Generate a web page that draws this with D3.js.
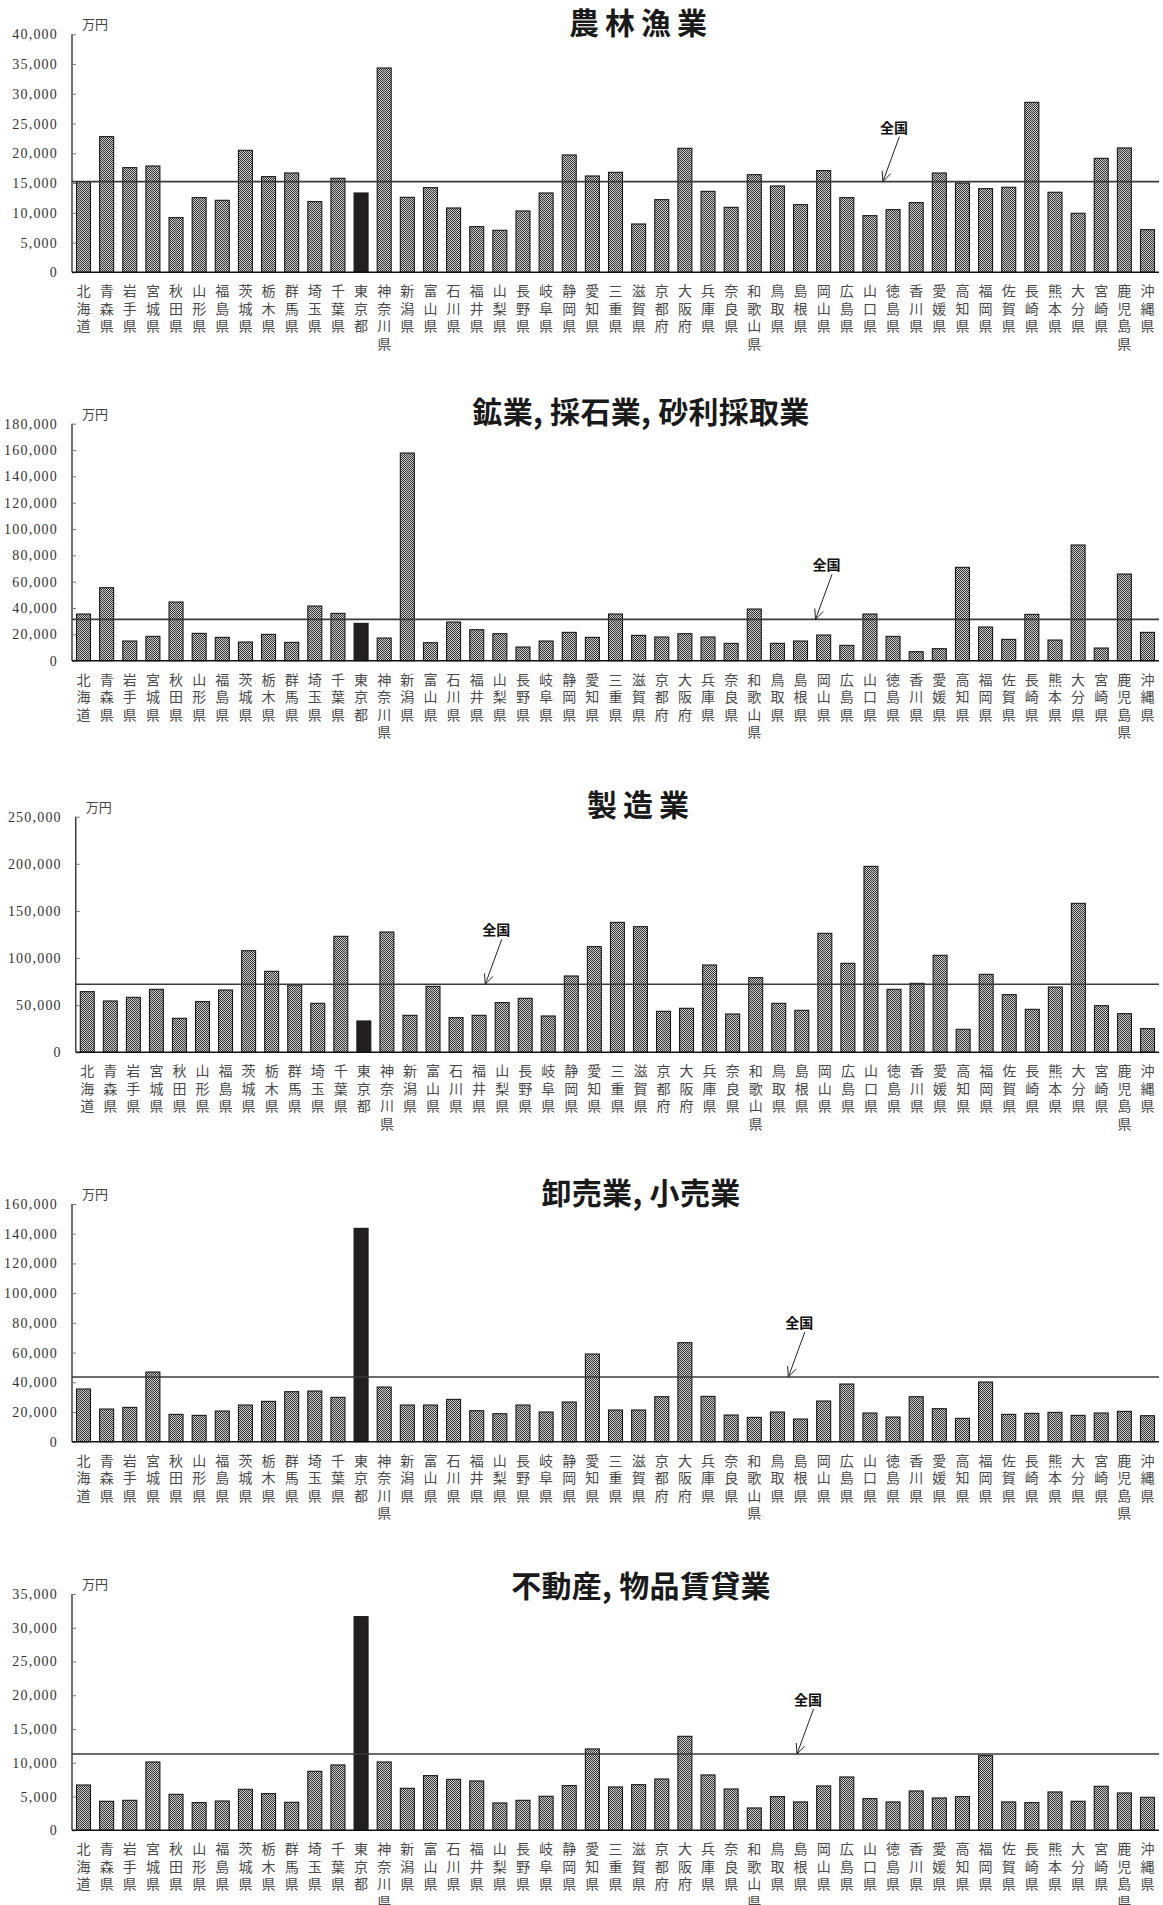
<!DOCTYPE html>
<html><head><meta charset="utf-8">
<script src="https://cdn.jsdelivr.net/npm/d3@7/dist/d3.min.js"></script>
<style>body{margin:0;background:#fff}svg{display:block}</style>
</head><body>
<svg id="c" width="1163" height="1905"></svg>
<script>
const prefectures = ["北海道","青森県","岩手県","宮城県","秋田県","山形県","福島県","茨城県","栃木県","群馬県","埼玉県","千葉県","東京都","神奈川県","新潟県","富山県","石川県","福井県","山梨県","長野県","岐阜県","静岡県","愛知県","三重県","滋賀県","京都府","大阪府","兵庫県","奈良県","和歌山県","鳥取県","島根県","岡山県","広島県","山口県","徳島県","香川県","愛媛県","高知県","福岡県","佐賀県","長崎県","熊本県","大分県","宮崎県","鹿児島県","沖縄県"];

const titles = ["農林漁業","鉱業, 採石業, 砂利採取業","製造業","卸売業, 小売業","不動産, 物品賃貸業"];
const unitLabel = "万円";
const nationalLabel = "全国";
const highlight = "東京都";

const agriculture = [15240,22800,17590,17870,9190,12550,12100,20500,16080,16690,11880,15800,13330,34340,12600,14230,10810,7670,7060,10310,13330,19720,16190,
  16800,8120,12210,20840,13610,10920,16410,14510,11370,17090,12550,9520,10530,11710,16690,15010,14060,14290,28570,13450,9920,19160,20900,7170];
const mining = [35450,55450,14940,18480,44560,20760,17720,14180,20000,13930,41520,35950,28360,17220,157740,13670,29370,23550,20510,10380,14940,21520,17720,
  35450,19240,17980,20510,17980,13170,39250,13170,14940,19500,11650,35450,18480,6840,9120,70900,25570,16200,35190,15700,87860,9620,65830,21520];
const manufacturing = [64360,54450,58340,66830,36070,53750,66120,107850,85920,71430,51980,123050,33240,127650,39250,70010,36770,39250,52690,57280,38540,80970,112090,
  137900,133310,43490,46680,92640,40660,79210,51980,44550,126240,94410,197310,66830,73200,102900,24400,82740,61170,45610,69310,158060,49500,41020,25110];
const trade = [35460,21990,23110,46900,18400,17730,20640,24680,27150,33660,34110,29850,143620,36800,24680,24680,28500,20870,18850,24680,19970,26700,59020,
  21320,21320,30290,66650,30520,17950,16380,19970,15260,27380,38820,19300,16610,30290,22220,15710,40170,18400,19070,19750,17730,19300,20420,17500];
const realEstate = [6710,4300,4440,10120,5330,4100,4340,6070,5430,4150,8740,9680,31650,10120,6220,8100,7550,7310,4050,4440,5040,6620,12050,
  6420,6760,7600,13920,8200,6120,3310,4990,4200,6570,7900,4690,4200,5830,4790,4990,11060,4200,4100,5680,4300,6520,5530,4890];
const nationalAverage = [15240,31400,72130,43530,11310];
const yMax = [40000,180000,250000,160000,35000];
const yStep = [5000,20000,50000,20000,5000];
const seriesList = [agriculture, mining, manufacturing, trade, realEstate];

// layout (positions / styles only)
const layout = [
  {top:34.3, bottom:272.3, left:72, titleY:23, ls:6, arrow:0.746},
  {top:423.7, bottom:660.7, left:72, titleY:412, ls:0.3, arrow:0.684},
  {top:816.7, bottom:1052.3, left:75.8, titleY:805, ls:6, arrow:0.378},
  {top:1204, bottom:1441.7, left:72, titleY:1193, ls:0.3, arrow:0.659},
  {top:1594, bottom:1830.3, left:72, titleY:1586, ls:0.3, arrow:0.667}
];
const RIGHT = 1159;
const CJK = "'Noto Sans CJK JP','Noto Sans CJK SC',sans-serif";
const SERIF = "'Liberation Serif','DejaVu Serif',serif";

const svg = d3.select("#c");
const defs = svg.append("defs");
const pat = defs.append("pattern").attr("id","dots").attr("width",2).attr("height",2).attr("patternUnits","userSpaceOnUse");
pat.append("rect").attr("width",2).attr("height",2).attr("fill","#cdcdcd");
pat.append("rect").attr("width",1).attr("height",1).attr("fill","#333");
pat.append("rect").attr("x",1).attr("y",1).attr("width",1).attr("height",1).attr("fill","#333");

seriesList.forEach((vals, k) => {
  const L = layout[k];
  const g = svg.append("g");
  const x = d3.scaleBand().domain(prefectures).range([L.left, RIGHT]).paddingInner(0.395).paddingOuter(0.195);
  const y = d3.scaleLinear().domain([0, yMax[k]]).range([L.bottom, L.top]);
  const data = prefectures.map((p,i)=>({p, v: vals[i]}));

  // title
  g.append("text").attr("x",641).attr("y",L.titleY + 11.4)
    .attr("text-anchor","middle").attr("font-family",CJK).attr("font-weight",700)
    .attr("font-size",30).attr("letter-spacing",L.ls).attr("fill","#1a1a1a").text(titles[k]);

  // unit
  g.append("text").attr("x",L.left+10).attr("y",L.top-5).attr("font-family",CJK)
    .attr("font-size",13).attr("fill","#444").text(unitLabel);

  // bars
  g.selectAll("rect.bar").data(data).join("rect").attr("class","bar")
    .attr("x",d=>x(d.p)).attr("width",x.bandwidth())
    .attr("y",d=>y(d.v)).attr("height",d=>y(0)-y(d.v))
    .attr("fill",d=>d.p===highlight?"#231f20":"url(#dots)")
    .attr("stroke","#1a1a1a").attr("stroke-width",1.1);

  // y axis
  const ticks = d3.range(0, yMax[k]+1, yStep[k]);
  const ax = d3.axisLeft(y).tickValues(ticks).tickSize(-4).tickPadding(14).tickFormat(d3.format(","));
  const ga = g.append("g").attr("transform",`translate(${L.left},0)`).call(ax);
  ga.select(".domain").attr("stroke","#111").attr("stroke-width",1.2).attr("d",`M0,${L.bottom}V${L.top}`);
  ga.selectAll(".tick line").attr("stroke","#777");
  ga.selectAll(".tick text").attr("font-family",SERIF).attr("font-size",14)
    .attr("letter-spacing",1.2).attr("fill","#333");

  // baseline
  g.append("line").attr("x1",L.left).attr("x2",RIGHT).attr("y1",y(0)).attr("y2",y(0))
    .attr("stroke","#111").attr("stroke-width",1.4);

  // national line
  const ny = y(nationalAverage[k]);
  g.append("line").attr("x1",L.left).attr("x2",RIGHT).attr("y1",ny).attr("y2",ny)
    .attr("stroke","#3a3a3a").attr("stroke-width",1.6);

  // x labels (vertical stacked)
  const lab = g.selectAll("text.xl").data(prefectures).join("text").attr("class","xl")
    .attr("font-family",CJK).attr("font-size",14).attr("fill","#4a4a4a").attr("text-anchor","middle");
  lab.each(function(p){
    const t = d3.select(this);
    const cx = x(p) + x.bandwidth()/2;
    [...p].forEach((ch,i)=>{
      t.append("tspan").attr("x",cx).attr("y",y(0)+19+i*17.4).attr("dy","0.36em").text(ch);
    });
  });

  // annotation arrow
  const tipX = L.left + (RIGHT - L.left)*L.arrow;
  const tipY = ny;
  const sx = tipX + 16.5, sy = tipY - 45;
  g.append("text").attr("x",tipX+11).attr("y",tipY-54).attr("dy","0.36em")
    .attr("text-anchor","middle").attr("font-family",CJK).attr("font-weight",700)
    .attr("font-size",14).attr("fill","#111").text(nationalLabel);
  g.append("line").attr("x1",sx).attr("y1",sy).attr("x2",tipX).attr("y2",tipY)
    .attr("stroke","#222").attr("stroke-width",1);
  const ang = Math.atan2(sy - tipY, sx - tipX);
  const hl = 11, spread = 0.42;
  [ang+spread, ang-spread].forEach(a=>{
    g.append("line").attr("x1",tipX).attr("y1",tipY)
      .attr("x2",tipX+hl*Math.cos(a)).attr("y2",tipY+hl*Math.sin(a))
      .attr("stroke","#222").attr("stroke-width",1);
  });
});
</script>
</body></html>
